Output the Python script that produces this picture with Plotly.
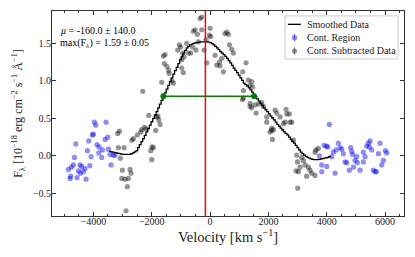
import plotly.graph_objects as go

# ---------------- data ----------------
mu = -160.0
mu_err = 140.0
max_flux = 1.59
max_flux_err = 0.05
fwhm_left = -1600.0
fwhm_right = 1510.0
half_max = 0.795

smooth_v = [-3460, -3402.5, -3345, -3287.5, -3230, -3172.5, -3115, -3057.5, -3000, -2942.5,
            -2885, -2827.5, -2770, -2712.5, -2655, -2597.5, -2540, -2482.5, -2425, -2367.5,
            -2310, -2252.5, -2195, -2137.5, -2080, -2022.5, -1965, -1907.5, -1850, -1792.5,
            -1735, -1677.5, -1620, -1562.5, -1505, -1447.5, -1390, -1332.5, -1275, -1217.5,
            -1160, -1102.5, -1045, -987.5, -930, -872.5, -815, -757.5, -700, -642.5,
            -585, -527.5, -470, -412.5, -355, -297.5, -240, -182.5, -125, -67.5,
            -10, 47.5, 105, 162.5, 220, 277.5, 335, 392.5, 450, 507.5,
            565, 622.5, 680, 737.5, 795, 852.5, 910, 967.5, 1025, 1082.5,
            1140, 1197.5, 1255, 1312.5, 1370, 1427.5, 1485, 1542.5, 1600, 1657.5,
            1715, 1772.5, 1830, 1887.5, 1945, 2002.5, 2060, 2117.5, 2175, 2232.5,
            2290, 2347.5, 2405, 2462.5, 2520, 2577.5, 2635, 2692.5, 2750, 2807.5,
            2865, 2922.5, 2980, 3037.5, 3095, 3152.5, 3210, 3267.5, 3325, 3382.5,
            3440, 3497.5, 3555, 3612.5, 3670, 3727.5, 3785, 3842.5, 3900, 3957.5,
            4015, 4072.5, 4130]
smooth_f = [0.06, 0.055, 0.05, 0.045, 0.04, 0.035, 0.03, 0.025, 0.02, 0.02,
            0.02, 0.02, 0.02, 0.03, 0.04, 0.055, 0.07, 0.11, 0.15, 0.19,
            0.23, 0.275, 0.32, 0.365, 0.41, 0.455, 0.50, 0.545, 0.59, 0.64,
            0.69, 0.74, 0.79, 0.84, 0.89, 0.94, 0.99, 1.04, 1.09, 1.135,
            1.18, 1.23, 1.28, 1.325, 1.37, 1.405, 1.44, 1.46, 1.48, 1.49,
            1.50, 1.505, 1.51, 1.515, 1.52, 1.52, 1.52, 1.52, 1.52, 1.515,
            1.51, 1.495, 1.48, 1.46, 1.44, 1.415, 1.39, 1.37, 1.35, 1.325,
            1.30, 1.27, 1.24, 1.205, 1.17, 1.14, 1.11, 1.075, 1.04, 1.005,
            0.97, 0.95, 0.93, 0.905, 0.88, 0.85, 0.82, 0.79, 0.76, 0.73,
            0.70, 0.67, 0.64, 0.615, 0.59, 0.56, 0.53, 0.505, 0.48, 0.45,
            0.42, 0.395, 0.37, 0.345, 0.32, 0.30, 0.28, 0.25, 0.22, 0.195,
            0.17, 0.14, 0.11, 0.08, 0.05, 0.03, 0.01, -0.005, -0.02, -0.03,
            -0.04, -0.045, -0.05, -0.05, -0.05, -0.045, -0.04, -0.035, -0.03, -0.025,
            -0.02, -0.01, 0.00]

cont_v = [-3967, -3919, -3566, -4036, -4000, -4605, -4159, -3875, -3806, -3693,
          -3600, -3508, -4207, -3816, -3714, -4080, -4653, -3487, -3429, -3316,
          -3258, -3395, -4687, -4756, -4859, -4458, -4400, -4286, -4125, -4516,
          -4345, -4448, -4777, -4800, -4561, -4252,
          4091, 3909, 3995, 4030, 4229, 4172, 4400, 4458, 4515, 4572,
          4320, 4629, 4686, 4286, 3829, 4823, 4892, 4972, 5143, 4777,
          5029, 5050, 5257, 5314, 5257, 5429, 5486, 5460, 5543, 5600,
          5660, 5829, 5772, 5943, 5886, 6058, 6012, 3749, 3829, 4915,
          5372, 5700, 4000, 4857]
cont_f = [0.45, 0.41, 0.45, 0.28, 0.29, 0.16, 0.20, 0.15, 0.12, 0.08,
          0.22, 0.25, 0.07, 0.04, -0.02, -0.01, -0.02, 0.09, 0.02, 0.01,
          0.01, -0.12, -0.12, -0.15, -0.18, -0.12, -0.14, -0.17, -0.13, -0.20,
          -0.21, -0.23, -0.27, -0.30, -0.29, -0.31,
          0.42, 0.14, 0.13, 0.12, 0.05, -0.01, 0.17, 0.11, 0.09, 0.03,
          0.08, -0.08, -0.09, -0.23, -0.21, 0.11, 0.02, -0.06, -0.19, -0.19,
          -0.01, -0.09, 0.05, -0.01, -0.08, 0.17, 0.20, 0.12, 0.08, -0.19,
          -0.21, 0.17, 0.03, -0.06, -0.12, 0.04, 0.07, 0.00, -0.12, -0.15,
          0.13, -0.21, -0.14, 0.06]

sub_v = [-3110, -3165, -2949, -3144, -3076, -3007, -2743, -2709, -2801, -2915,
         -3028, -2836, -2880, -2493, -2630, -2685, -2253, -2342, -2195, -2376,
         -2102, -2308, -1828, -1759, -1715, -1862, -1790, -1989, -1944, -2033,
         -1999, -1656, -1601, -1543, -1567, -1474, -1416, -1406, -1303, -1258,
         -1053, -1005, -1108, -936, -916, -971,
         -343, -290, -514, -434, -286, 0, -23, 23, -137, -400,
         -800, -594, -480, -206, -743, -663, -892, -971, -114, -571,
         572, 628, 514, 743, 663, 171, 400, 320, 229, 457,
         800, 1234, 340, 1143, 1110, 1372, 1430, 1314, 1372, 1120,
         1429, 1463, 1143, 1372, 1543, 1577, 1657, 1772, 1829, 1943,
         1943, 2115, 2057, 2137, 2229, 2286, 2400, 2515, 2606, 2630,
         2719, 2572, 2743, 2801, 2857, 2972, 3143, 3200, 2995, 3086,
         3257, 3029, 3429, 3486, 3600, 3314, 3371, 3634, 3714, 3005,
         2949, 3600, 2115, 2172]
sub_f = [0.33, 0.30, 0.11, 0.11, -0.03, -0.19, -0.18, -0.23, -0.30, -0.31,
         -0.30, -0.41, -0.73, 0.28, 0.23, 0.21, 0.38, 0.35, 0.36, 0.32,
         0.54, 0.86, 0.52, 0.48, 0.42, 0.34, 0.53, 0.12, 0.11, 0.07,
         -0.05, 0.98, 1.33, 1.35, 1.23, 1.19, 1.14, 1.10, 1.00, 0.97,
         1.48, 1.45, 1.41, 1.37, 1.11, 1.17,
         1.83, 1.85, 1.68, 1.62, 1.68, 1.70, 1.61, 1.59, 1.55, 1.52,
         1.50, 1.45, 1.41, 1.41, 1.37, 1.37, 1.32, 1.28, 1.24, 1.66,
         1.65, 1.62, 1.63, 1.42, 1.48, 1.34, 1.30, 1.25, 1.21, 1.12,
         1.37, 1.24, 1.20, 0.77, 0.75, 0.66, 0.64, 1.01, 0.94, 1.12,
         0.99, 0.92, 0.87, 0.70, 0.68, 0.57, 0.69, 0.71, 0.66, 0.52,
         0.45, 0.34, 0.32, 0.22, 0.61, 0.57, 0.52, 0.43, 0.62, 0.56,
         0.56, 0.45, 0.45, 0.45, 0.21, 0.01, -0.02, -0.06, -0.08, -0.15,
         -0.12, -0.21, -0.19, -0.23, -0.26, -0.27, -0.15, 0.08, 0.10, -0.43,
         -0.20, 0.05, 0.37, 0.35]

legend_labels = ["Smoothed Data", "Cont. Region", "Cont. Subtracted Data"]

x_range = [-5420, 6650]
y_range = [-0.80, 1.93]

FONT = "Liberation Serif"
BLUE = "rgba(0,0,255,0.45)"
GREY = "rgba(0,0,0,0.42)"

fig = go.Figure()

fig.add_trace(go.Scatter(
    x=cont_v, y=cont_f, mode="markers", name=legend_labels[1],
    marker=dict(color=BLUE, size=5.2, line=dict(width=0)), showlegend=False,
))
fig.add_trace(go.Scatter(
    x=sub_v, y=sub_f, mode="markers", name=legend_labels[2],
    marker=dict(color=GREY, size=5.2, line=dict(width=0)), showlegend=False,
))
fig.add_trace(go.Scatter(
    x=smooth_v, y=smooth_f, mode="lines", name=legend_labels[0],
    line=dict(color="black", width=1.3, shape="hv"), showlegend=False,
))
fig.add_trace(go.Scatter(
    x=[fwhm_left, fwhm_right], y=[half_max, half_max], mode="lines+markers",
    line=dict(color="green", width=1.3), marker=dict(color="green", size=6),
    showlegend=False,
))

fig.add_vline(x=mu, line=dict(color="#ff0000", width=1.5), layer="above")

# ---- hand-drawn legend (matplotlib style box) in paper coordinates ----
box_x0, box_x1, box_y0, box_y1 = 0.662, 0.983, 0.766, 0.976
rows_y = [0.935, 0.870, 0.805]
hx0, hx1, hxc, tx = 0.670, 0.707, 0.689, 0.719
fig.add_shape(type="rect", xref="paper", yref="paper", x0=box_x0, x1=box_x1, y0=box_y0, y1=box_y1,
              line=dict(color="#cccccc", width=1), fillcolor="rgba(255,255,255,0.85)", layer="above")
fig.add_shape(type="line", xref="paper", yref="paper", x0=hx0, x1=hx1, y0=rows_y[0], y1=rows_y[0],
              line=dict(color="black", width=1.3), layer="above")
for ry, col in [(rows_y[1], BLUE), (rows_y[2], GREY)]:
    fig.add_shape(type="line", xref="paper", yref="paper", x0=hxc, x1=hxc, y0=ry - 0.02, y1=ry + 0.02,
                  line=dict(color=col, width=1), layer="above")
    fig.add_shape(type="circle", xref="paper", yref="paper", xsizemode="pixel", ysizemode="pixel",
                  xanchor=hxc, yanchor=ry, x0=-2.6, x1=2.6, y0=-2.6, y1=2.6,
                  line=dict(width=0), fillcolor=col, layer="above")
for ry, lab in zip(rows_y, legend_labels):
    fig.add_annotation(xref="paper", yref="paper", x=tx, y=ry, xanchor="left", yanchor="middle",
                       text=lab, showarrow=False, font=dict(family=FONT, size=10, color="#222"))

fig.add_annotation(
    xref="paper", yref="paper", x=0.018, y=0.905, xanchor="left", yanchor="middle",
    text=f"<i>μ</i> = {mu:.1f} ± {mu_err:.1f}", showarrow=False,
    font=dict(family=FONT, size=10, color="black"),
)
fig.add_annotation(
    xref="paper", yref="paper", x=0.018, y=0.84, xanchor="left", yanchor="middle",
    text=f"max(F<sub>λ</sub>) = {max_flux:.2f} ± {max_flux_err:.2f}", showarrow=False,
    font=dict(family=FONT, size=10, color="black"),
)

axis_common = dict(
    showgrid=False, zeroline=False, showline=True, linecolor="#333", linewidth=1,
    mirror="allticks", ticks="inside", tickcolor="#333", ticklen=4, tickwidth=1,
    tickfont=dict(family=FONT, size=10, color="#222"),
)

fig.update_xaxes(
    **axis_common, range=x_range, dtick=2000, tick0=0, tickformat="d", ticklabelstandoff=-4,
    minor=dict(ticks="inside", dtick=500, ticklen=2, tickcolor="#333", showgrid=False),
    title=dict(text="Velocity [km s<sup>−1</sup>]", font=dict(family=FONT, size=14.5, color="#222"), standoff=1),
)
fig.update_yaxes(
    **axis_common, range=y_range, dtick=0.5, tick0=0, tickformat=".1f", ticklabelstandoff=-2,
    title=dict(text="F<sub>λ</sub> [10<sup>−18</sup> erg cm<sup>−2</sup> s<sup>−1</sup> Å<sup>−1</sup>]",
               font=dict(family=FONT, size=12, color="#222"), standoff=7),
)

# The page body has an 8px default margin, so the figure is sized to fit the window.
fig.update_layout(
    width=407, height=249,
    margin=dict(l=44, r=11, t=3, b=41, autoexpand=False),
    paper_bgcolor="white", plot_bgcolor="white",
    showlegend=False,
)

fig.write_html("out.html")
